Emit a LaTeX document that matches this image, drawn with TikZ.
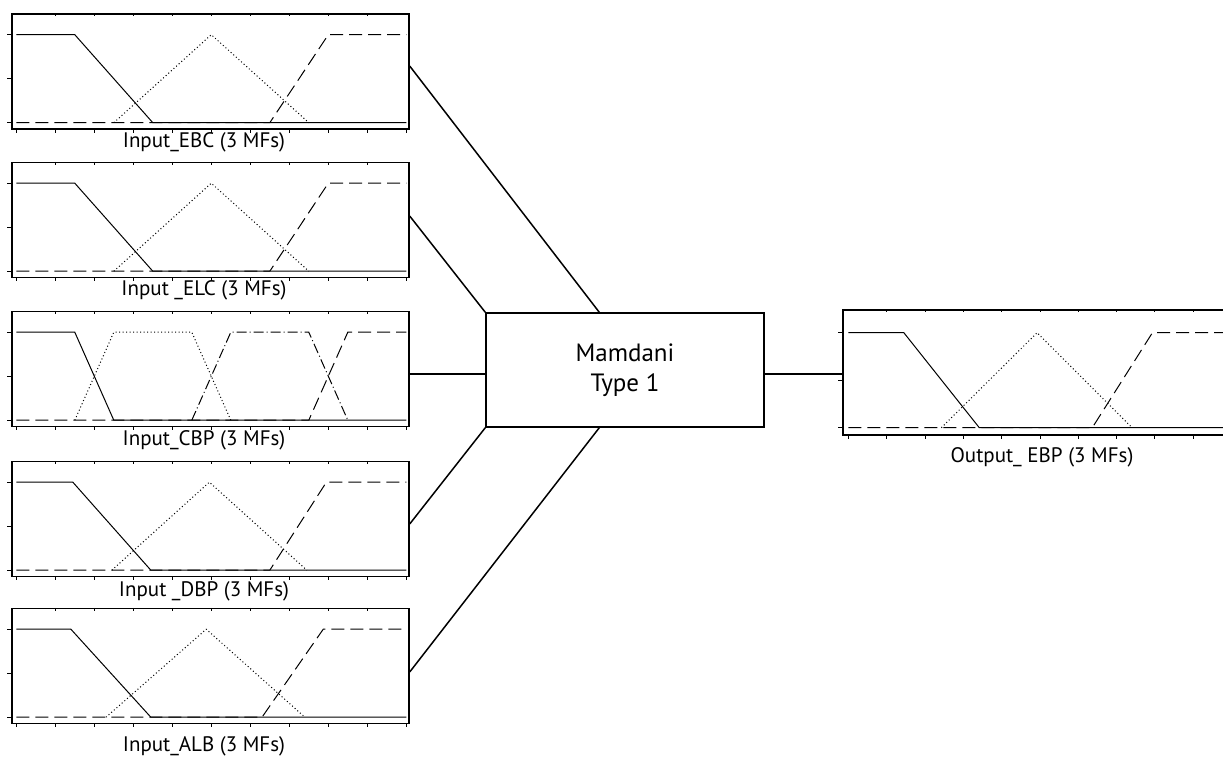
\documentclass[tikz,border=0pt]{standalone}
\usepackage{fontspec}
\setmainfont{PT Sans}
\tikzset{
  mfpanel/.style={draw, line width=1.4pt, minimum width=397pt, minimum height=115pt, inner sep=0pt},
  mftick/.style={line width=0.6pt},
  mfsolid/.style={line width=1pt},
  mfdash/.style={line width=1pt, dash pattern=on 13pt off 6pt},
  mfdot/.style={line width=1pt, dash pattern=on 1pt off 2.5pt},
  mfdashdot/.style={line width=1pt, dash pattern=on 10pt off 3pt on 1pt off 3pt},
  mflabel/.style={font=\fontsize{21}{30}\selectfont, inner sep=0pt},
  fisbox/.style={draw, line width=1.4pt, minimum width=278pt, minimum height=114pt, inner sep=0pt, align=center, font=\fontsize{25}{30}\selectfont},
  link/.style={line width=1.5pt}
}
\begin{document}
\begin{tikzpicture}[x=1pt, y=-1pt]
\useasboundingbox (0,0) rectangle (1223,756);
% panels
\node[mfpanel] (ebc) at (210.5,71.5) {};
\node[mfpanel] (elc) at (210.5,220) {};
\node[mfpanel] (cbp) at (210.5,369) {};
\node[mfpanel] (dbp) at (210.5,519) {};
\node[mfpanel] (alb) at (210.5,666) {};
\node[mfpanel, minimum width=398pt, minimum height=125pt] (ebp) at (1042,372.5) {};
\node[fisbox] (mamdani) at (625,370) {Mamdani\\Type 1};
% ticks
\foreach \p/\dx/\dy/\ux/\uy in {ebc/5/7/39/88, elc/5/7/39/88, cbp/5/7/39/88, dbp/5/7/39/88, alb/5/7/39/88, ebp/6/8/38.3/95} {
  \begin{scope}[shift={(\p.south west)}, xshift=\dx pt, yshift=\dy pt, x=\ux pt, y=\uy pt]
    \foreach \i in {1,...,9} \draw[mftick] (\i,0 |- \p.north) -- ++(0,-3pt);
    \foreach \i in {0,...,10} \draw[mftick] (\i,0 |- \p.south) -- ++(0,-3pt);
    \foreach \j in {0,0.5,1} \draw[mftick] (\p.west |- 0,\j) -- ++(-4pt,0);
  \end{scope}
}
% membership functions
\begin{scope}[shift={(ebc.south west)}, xshift=5pt, yshift=7pt, x=39pt, y=88pt]
  \draw[mfdash] (0,0) -- (6.5,0) -- (8,1) -- (10,1);
  \draw[mfdot] (2.5,0) -- (5,1) -- (7.5,0);
  \draw[mfsolid] (0,1) -- (1.5,1) -- (3.5,0) -- (10,0);
\end{scope}
\begin{scope}[shift={(elc.south west)}, xshift=5pt, yshift=7pt, x=39pt, y=88pt]
  \draw[mfdash] (0,0) -- (6.5,0) -- (8,1) -- (10,1);
  \draw[mfdot] (2.5,0) -- (5,1) -- (7.5,0);
  \draw[mfsolid] (0,1) -- (1.5,1) -- (3.5,0) -- (10,0);
\end{scope}
\begin{scope}[shift={(cbp.south west)}, xshift=5pt, yshift=7pt, x=39pt, y=88pt]
  \draw[mfdash] (0,0) -- (7.5,0) -- (8.5,1) -- (10,1);
  \draw[mfdot] (1.5,0) -- (2.5,1) -- (4.5,1) -- (5.5,0);
  \draw[mfdashdot] (4.5,0) -- (5.5,1) -- (7.5,1) -- (8.5,0);
  \draw[mfsolid] (0,1) -- (1.5,1) -- (2.5,0) -- (10,0);
\end{scope}
\begin{scope}[shift={(dbp.south west)}, xshift=5pt, yshift=7pt, x=39pt, y=88pt]
  \draw[mfdash] (0,0) -- (6.5,0) -- (7.95,1) -- (10,1);
  \draw[mfdot] (2.45,0) -- (4.95,1) -- (7.45,0);
  \draw[mfsolid] (0,1) -- (1.45,1) -- (3.45,0) -- (10,0);
\end{scope}
\begin{scope}[shift={(alb.south west)}, xshift=5pt, yshift=7pt, x=39pt, y=88pt]
  \draw[mfdash] (0,0) -- (6.3,0) -- (7.87,1) -- (10,1);
  \draw[mfdot] (2.3,0) -- (4.87,1) -- (7.4,0);
  \draw[mfsolid] (0,1) -- (1.4,1) -- (3.45,0) -- (10,0);
\end{scope}
\begin{scope}[shift={(ebp.south west)}, xshift=6pt, yshift=8pt, x=38.3pt, y=95pt]
  \draw[mfdash] (0,0) -- (6.37,0) -- (7.94,1) -- (10,1);
  \draw[mfdot] (2.43,0) -- (4.93,1) -- (7.41,0);
  \draw[mfsolid] (0,1) -- (1.45,1) -- (3.42,0) -- (10,0);
\end{scope}
% labels
\node[mflabel] (ebclab) at (204,142) {Input\_EBC (3 MFs)};
\node[mflabel] (elclab) at (204,290) {Input \_ELC (3 MFs)};
\node[mflabel] (cbplab) at (204,440) {Input\_CBP (3 MFs)};
\node[mflabel] (dbplab) at (204,591) {Input \_DBP (3 MFs)};
\node[mflabel] (alblab) at (204,746) {Input\_ALB (3 MFs)};
\node[mflabel] (ebplab) at (1042,457) {Output\_ EBP (3 MFs)};
% connectors
\draw[link] ([yshift=5.5pt]ebc.east) -- ([xshift=114pt]mamdani.north west);
\draw[link] ([yshift=4pt]elc.east) -- (mamdani.north west);
\draw[link] ([yshift=-5pt]cbp.east) -- ([yshift=-4pt]mamdani.west);
\draw[link] ([yshift=-5pt]dbp.east) -- (mamdani.south west);
\draw[link] ([yshift=-6pt]alb.east) -- ([xshift=114pt]mamdani.south west);
\draw[link] ([yshift=-4pt]mamdani.east) -- ([yshift=-1.5pt]ebp.west);
\end{tikzpicture}
\end{document}
